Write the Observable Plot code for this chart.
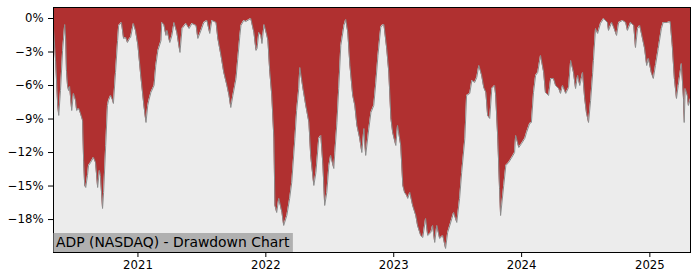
<!DOCTYPE html>
<html><head><meta charset="utf-8">
<script src="https://cdn.jsdelivr.net/npm/d3@7"></script>
<script src="https://cdn.jsdelivr.net/npm/@observablehq/plot@0.6"></script>
<style>body{margin:0;background:#fff} #chart{width:700px;height:280px}</style>
</head><body><div id="chart"></div>
<script>
const dates = [
"2020-05-05","2020-05-11","2020-05-17","2020-05-20","2020-05-25","2020-05-31","2020-06-06","2020-06-09","2020-06-11","2020-06-14",
"2020-06-17","2020-06-20","2020-06-26","2020-07-01","2020-07-07","2020-07-10","2020-07-16","2020-07-21","2020-07-27","2020-07-30",
"2020-08-02","2020-08-05","2020-08-10","2020-08-13","2020-08-19","2020-08-27","2020-09-02","2020-09-08","2020-09-13","2020-09-16",
"2020-09-22","2020-09-25","2020-10-01","2020-10-06","2020-10-09","2020-10-15","2020-10-21","2020-10-23","2020-10-29","2020-11-04",
"2020-11-07","2020-11-15","2020-11-21","2020-11-27","2020-12-02","2020-12-08","2020-12-11","2020-12-19","2020-12-25",
"2021-01-01","2021-01-09","2021-01-18","2021-01-24","2021-01-29","2021-02-01","2021-02-07","2021-02-16","2021-02-21","2021-02-27",
"2021-03-08","2021-03-10","2021-03-16","2021-03-22","2021-03-25","2021-04-02","2021-04-08","2021-04-14","2021-04-22","2021-05-01",
"2021-05-07","2021-05-18","2021-05-27","2021-06-04","2021-06-16","2021-06-21","2021-06-30","2021-07-08","2021-07-17","2021-07-25",
"2021-07-31","2021-08-12","2021-08-17","2021-08-26","2021-09-03","2021-09-12","2021-09-18","2021-09-23","2021-09-29","2021-10-08",
"2021-10-13","2021-10-19","2021-10-22","2021-10-30","2021-11-05","2021-11-19","2021-11-28","2021-12-04","2021-12-07","2021-12-12",
"2021-12-18","2021-12-21","2021-12-27",
"2022-01-04","2022-01-07","2022-01-12","2022-01-18","2022-01-24","2022-01-27","2022-02-01","2022-02-07","2022-02-16","2022-02-21",
"2022-03-02","2022-03-10","2022-03-16","2022-03-25","2022-03-30","2022-04-05","2022-04-08","2022-04-17","2022-04-25","2022-05-04",
"2022-05-09","2022-05-18","2022-05-24","2022-06-01","2022-06-07","2022-06-13","2022-06-18","2022-06-24","2022-06-30","2022-07-05",
"2022-07-14","2022-07-17","2022-07-23","2022-07-28","2022-08-03","2022-08-12","2022-08-17","2022-08-23","2022-08-29","2022-09-06",
"2022-09-12","2022-09-18","2022-09-26","2022-10-02","2022-10-08","2022-10-13","2022-10-22","2022-10-28","2022-11-05","2022-11-11",
"2022-11-17","2022-11-25","2022-11-28","2022-12-04","2022-12-12","2022-12-18","2022-12-24","2022-12-29",
"2023-01-07","2023-01-12","2023-01-21","2023-01-27","2023-02-01","2023-02-07","2023-02-10","2023-02-16","2023-02-24","2023-03-05",
"2023-03-10","2023-03-19","2023-03-25","2023-04-02","2023-04-08","2023-04-17","2023-04-22","2023-04-28","2023-05-04","2023-05-12",
"2023-05-21","2023-05-29","2023-06-04","2023-06-16","2023-06-21","2023-06-30","2023-07-08","2023-07-14","2023-07-23","2023-07-28",
"2023-08-06","2023-08-12","2023-08-20","2023-08-26","2023-09-01","2023-09-09","2023-09-15","2023-09-21","2023-09-26","2023-10-02",
"2023-10-08","2023-10-16","2023-10-19","2023-10-25","2023-10-30","2023-11-02","2023-11-11","2023-11-17","2023-11-25","2023-12-04",
"2023-12-12","2023-12-15","2023-12-24",
"2024-01-01","2024-01-10","2024-01-15","2024-01-24","2024-01-29","2024-02-04","2024-02-10","2024-02-16","2024-02-24","2024-03-04",
"2024-03-09","2024-03-18","2024-03-24","2024-04-01","2024-04-07","2024-04-16","2024-04-21","2024-04-27","2024-05-06","2024-05-14",
"2024-05-20","2024-05-28","2024-06-03","2024-06-09","2024-06-15","2024-06-23","2024-06-29","2024-07-04","2024-07-10","2024-07-16",
"2024-07-22","2024-07-24","2024-07-30","2024-08-05","2024-08-13","2024-08-22","2024-09-02","2024-09-05","2024-09-14","2024-09-20",
"2024-09-28","2024-10-04","2024-10-15","2024-10-24","2024-10-29","2024-11-07","2024-11-16","2024-11-21","2024-11-27","2024-12-03",
"2024-12-11","2024-12-17","2024-12-23","2024-12-28",
"2025-01-05","2025-01-11","2025-01-17","2025-01-25","2025-02-03","2025-02-08","2025-02-20","2025-02-28","2025-03-06","2025-03-12",
"2025-03-18","2025-03-23","2025-04-01","2025-04-07","2025-04-09","2025-04-12","2025-04-18","2025-04-21","2025-04-27"
];
const drawdown = [
-0.90,-3.76,-7.79,-8.68,-6.45,-2.86,-0.54,-1.97,-4.66,-6.00,
-6.45,-6.09,-8.24,-6.71,-7.34,-8.24,-8.06,-8.50,-9.13,-12.71,
-14.95,-15.13,-14.06,-13.16,-12.89,-12.44,-12.89,-15.13,-13.60,-14.06,
-17.01,-15.58,-11.37,-7.79,-7.34,-6.89,-7.34,-7.61,-4.83,-1.97,
-0.63,-0.36,-1.79,-1.70,-2.15,-1.79,-1.70,-0.45,-1.07,
-2.42,-5.10,-7.79,-9.31,-7.79,-7.34,-6.62,-6.00,-4.21,-2.86,
-1.97,-0.36,-0.54,-1.52,-1.07,-2.15,-1.52,-0.36,-1.25,-3.04,
-0.90,-0.45,-0.90,-0.45,-0.63,-1.79,-1.07,-0.36,-0.18,-1.34,
-0.18,-0.36,-1.79,-3.31,-4.83,-6.00,-6.89,-7.97,-6.89,-5.37,
-3.58,-1.52,-0.63,-0.18,-0.27,0,-1.25,-2.86,-2.69,-1.25,
-1.52,-2.24,-0.54,
-1.52,-1.97,-4.66,-6.89,-10.74,-16.74,-17.37,-16.11,-17.37,-18.53,
-17.64,-16.11,-14.68,-10.74,-8.24,-6.27,-4.39,-6.27,-7.79,-9.31,
-12.26,-14.95,-13.79,-10.74,-10.47,-13.16,-16.74,-15.58,-13.16,-12.26,
-13.43,-12.00,-9.31,-6.27,-2.42,-0.63,-0.09,-1.25,-4.21,-6.89,
-7.79,-9.58,-10.74,-12.00,-9.85,-12.26,-9.85,-8.42,-7.79,-5.73,
-3.31,-0.81,-0.63,-0.54,-2.69,-4.83,-8.95,-10.21,
-11.37,-9.58,-11.37,-14.95,-15.58,-15.85,-16.11,-15.58,-16.74,-17.64,
-18.53,-19.43,-19.61,-17.91,-19.43,-19.16,-18.53,-20.05,-18.53,-19.70,
-19.43,-20.59,-19.16,-17.91,-17.37,-18.26,-16.11,-13.79,-10.74,-6.89,
-6.71,-5.55,-5.73,-5.28,-4.21,-5.10,-6.18,-6.62,-8.68,-8.95,
-6.27,-6.00,-6.89,-10.74,-15.22,-17.64,-14.95,-13.16,-12.89,-12.44,
-12.00,-10.47,-11.55,
-11.19,-10.74,-10.21,-9.40,-9.31,-6.62,-5.10,-4.83,-3.31,-4.83,
-6.62,-6.89,-5.37,-5.37,-6.00,-6.27,-6.71,-6.00,-6.71,-6.18,
-3.76,-4.83,-6.27,-5.10,-6.00,-4.83,-7.16,-8.42,-9.31,-7.34,
-4.83,-3.76,-0.90,-1.34,-0.45,0,-0.36,-1.07,-0.36,-0.81,
-1.52,-0.36,-0.18,-0.36,-1.07,-0.36,-0.63,-2.60,-0.90,-0.63,
-1.79,-2.69,-4.21,-3.58,
-4.83,-5.37,-4.21,-2.69,-0.90,-0.36,-0.36,-0.27,-2.42,-5.37,
-7.16,-6.00,-4.03,-7.16,-9.31,-6.27,-6.89,-7.79,-7.16
];
const yTicks = [0, -3, -6, -9, -12, -15, -18];
const xTicks = ["2021-01-01", "2022-01-01", "2023-01-01", "2024-01-01", "2025-01-01"];
const title = "ADP (NASDAQ) - Drawdown Chart";

const data = dates.map((d, i) => ({date: new Date(d), dd: drawdown[i]}));
const yTop = 0.985, yBottom = -20.95;

const chart = Plot.plot({
  width: 700, height: 280,
  marginLeft: 53, marginRight: 10, marginTop: 7, marginBottom: 28,
  style: {fontFamily: "DejaVu Sans", fontSize: "11.7px", color: "#000", background: "#fff"},
  x: {type: "utc", domain: [data[0].date, data[data.length - 1].date]},
  y: {domain: [yBottom, yTop]},
  marks: [
    Plot.frame({fill: "#ececec"}),
    Plot.areaY(data, {x: "date", y1: "dd", y2: () => yTop, fill: "#b03030"}),
    Plot.lineY(data, {x: "date", y: "dd", stroke: "#8c8c8c", strokeWidth: 1}),
    Plot.axisY({ticks: yTicks, tickSize: 5, tickPadding: 5,
      tickFormat: d => d === 0 ? "0%" : "\u2212" + Math.abs(d) + "%", label: null}),
    Plot.axisX({ticks: xTicks.map(s => new Date(s)), tickSize: 5, tickPadding: 3,
      tickFormat: d3.utcFormat("%Y"), label: null}),
    Plot.frame({stroke: "#000", strokeWidth: 1})
  ]
});
document.getElementById("chart").appendChild(chart);

// title label box in lower-left of plot area
const svg = d3.select(chart);
const g = svg.append("g");
const rect = g.append("rect").attr("fill", "#b0b0b0");
const txt = g.append("text").text(title)
  .attr("x", 56).attr("y", 246.5)
  .attr("text-anchor", "start")
  .attr("font-family", "DejaVu Sans").attr("font-size", "13.9px").attr("fill", "#000");
const w = txt.node().getComputedTextLength();
rect.attr("x", 53.5).attr("y", 233).attr("width", w + 6).attr("height", 19);
</script>
</body></html>
